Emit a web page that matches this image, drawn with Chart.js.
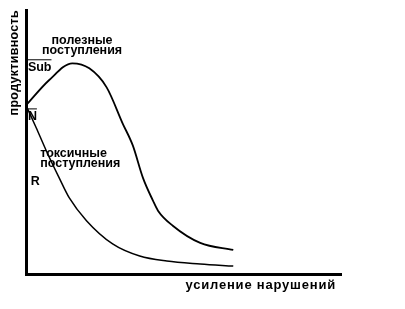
<!DOCTYPE html>
<html>
<head>
<meta charset="utf-8">
<script src="https://cdn.jsdelivr.net/npm/chart.js@4"></script>
<style>
  html, body { margin: 0; padding: 0; background: #fff; }
  #wrap { width: 405px; height: 309px; }
</style>
</head>
<body>
<div id="wrap"><canvas id="chart" width="405" height="309"></canvas></div>
<script>
// curve points (x = disturbance, y = productivity, 0..100)
const usefulX = [0, 7.3, 14.7, 20.1, 25.6, 30.7, 33.9, 37.1, 40.3, 41.9, 46.6, 55.3, 65.8];
const usefulY = [63.9, 73.4, 79.8, 77.9, 70.7, 57.0, 48.7, 36.5, 27.8, 24.0, 18.3, 11.8, 9.1];
const toxicX = [0, 3.2, 6.4, 10.5, 13.7, 19.2, 27.5, 36.1, 44.7, 55.3, 65.8];
const toxicY = [63.9, 55.5, 46.8, 36.5, 28.9, 20.2, 11.4, 6.8, 4.9, 3.8, 3.0];
const xTitle = 'усиление нарушений';
const yTitle = 'продуктивность';

const toPts = (xs, ys) => xs.map((x, i) => ({x: x, y: ys[i]}));

// labels placed in data units
const notes = [
  {text: 'полезные', x: 17.8, y: 88.5, align: 'center'},
  {text: 'поступления', x: 17.8, y: 84.7, align: 'center'},
  {text: 'Sub', x: 0.6, y: 78.3, align: 'left', bar: true},
  {text: 'N', x: 0.6, y: 59.7, align: 'left', bar: true},
  {text: 'токсичные', x: 4.5, y: 45.6, align: 'left'},
  {text: 'поступления', x: 4.5, y: 41.8, align: 'left'},
  {text: 'R', x: 1.5, y: 35.0, align: 'left'}
];

const textPlugin = {
  id: 'texts',
  afterDraw(chart) {
    const ctx = chart.ctx;
    const xs = chart.scales.x, ys = chart.scales.y;
    ctx.save();
    ctx.fillStyle = '#000';
    ctx.strokeStyle = '#000';
    ctx.font = 'bold 12.5px "Liberation Sans", Arial, sans-serif';
    ctx.textBaseline = 'middle';
    notes.forEach(n => {
      const px = xs.getPixelForValue(n.x), py = ys.getPixelForValue(n.y);
      ctx.textAlign = n.align;
      ctx.fillText(n.text, px, py);
      if (n.bar) {
        const w = ctx.measureText(n.text).width;
        ctx.lineWidth = 1;
        ctx.beginPath();
        ctx.moveTo(px, py - 7.5);
        ctx.lineTo(px + w, py - 7.5);
        ctx.stroke();
      }
    });
    // axis titles
    ctx.font = 'bold 13px "Liberation Sans", Arial, sans-serif';
    ctx.letterSpacing = '0.8px';
    ctx.textAlign = 'right';
    ctx.fillText(xTitle, 336, 285);
    ctx.font = 'bold 12.5px "Liberation Sans", Arial, sans-serif';
    ctx.letterSpacing = '0.3px';
    ctx.translate(15, 10);
    ctx.rotate(-Math.PI / 2);
    ctx.textAlign = 'right';
    ctx.fillText(yTitle, 0, 0);
    ctx.restore();
  }
};

new Chart(document.getElementById('chart'), {
  type: 'scatter',
  data: {
    datasets: [
      {data: toPts(usefulX, usefulY), showLine: true, borderColor: '#000', borderWidth: 1.8, pointRadius: 0, tension: 0.4, cubicInterpolationMode: 'monotone'},
      {data: toPts(toxicX, toxicY), showLine: true, borderColor: '#000', borderWidth: 1.5, pointRadius: 0, tension: 0.4, cubicInterpolationMode: 'monotone'}
    ]
  },
  options: {
    responsive: false,
    animation: false,
    layout: {padding: {left: 26, right: 64, top: 10, bottom: 35}},
    plugins: {legend: {display: false}, tooltip: {enabled: false}},
    scales: {
      x: {min: 0, max: 100, grid: {display: false, drawTicks: false}, ticks: {display: false},
          border: {color: '#000', width: 3}},
      y: {min: 0, max: 100, grid: {display: false, drawTicks: false}, ticks: {display: false},
          border: {color: '#000', width: 3}}
    }
  },
  plugins: [textPlugin]
});
</script>
</body>
</html>
